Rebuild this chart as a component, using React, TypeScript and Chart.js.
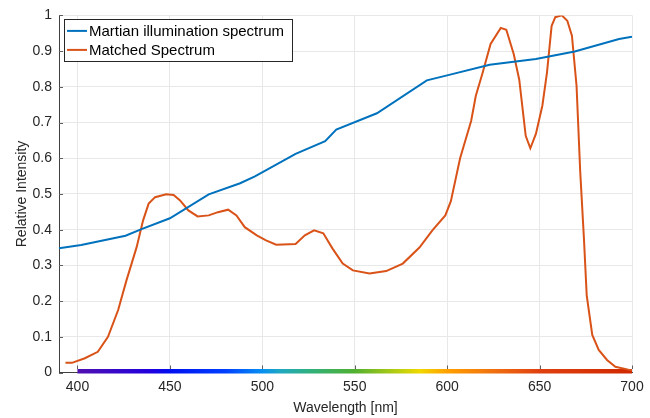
import React, { useEffect, useRef } from "react";
import { Chart, registerables } from "chart.js";

Chart.register(...registerables);

const martianWl = [390, 402, 426, 435, 450, 471, 488, 496, 518, 534, 540, 562, 589, 600, 623, 648, 669, 693, 700];
const martianVal = [0.348, 0.357, 0.383, 0.402, 0.432, 0.499, 0.53, 0.549, 0.612, 0.648, 0.68, 0.726, 0.818, 0.832, 0.862, 0.878, 0.899, 0.934, 0.94];

const matchedWl = [393.5, 397, 404, 411, 416.5, 422, 426.5, 432, 435.5, 438.5, 442, 448, 452, 455.5, 460, 465, 471, 476, 481.5, 486, 490.5, 497, 502, 507.5, 518, 523, 528, 533, 538, 543.5, 549, 558, 567, 576, 585, 592, 599, 602, 607, 613, 615.5, 619, 623.5, 629, 632, 636, 639, 642.5, 645, 648, 651.5, 654, 656.5, 658.5, 662, 665, 667.5, 670, 672, 674, 675.5, 678.5, 682, 686.5, 691, 698, 700];
const matchedVal = [0.027, 0.027, 0.04, 0.058, 0.1, 0.175, 0.258, 0.351, 0.426, 0.473, 0.491, 0.499, 0.497, 0.482, 0.454, 0.437, 0.44, 0.449, 0.456, 0.44, 0.407, 0.384, 0.37, 0.358, 0.36, 0.384, 0.398, 0.39, 0.347, 0.305, 0.286, 0.277, 0.284, 0.305, 0.35, 0.398, 0.44, 0.48, 0.6, 0.705, 0.775, 0.836, 0.92, 0.965, 0.96, 0.892, 0.82, 0.663, 0.628, 0.668, 0.747, 0.84, 0.97, 0.995, 1.0, 0.985, 0.943, 0.803, 0.561, 0.375, 0.216, 0.105, 0.063, 0.035, 0.016, 0.008, 0.006];

const xTicks = [400, 450, 500, 550, 600, 650, 700];
const seriesLabels = ["Martian illumination spectrum", "Matched Spectrum"];

const spectrumWl = [400, 440, 450, 480, 500, 510, 525, 550, 575, 585, 600, 625, 650, 700];
const spectrumColors = ["#5010b0", "#2000e0", "#0010f0", "#0040ff", "#0890f0", "#20a8c0", "#30b080", "#50b030", "#c0d010", "#f0d800", "#ffa000", "#f07010", "#e04010", "#d02800"];

const FONT = "'Liberation Sans', Arial, Helvetica, sans-serif";

const spectrumPlugin = {
  id: "spectrumBar",
  beforeDatasetsDraw(chart: any) {
    const { ctx } = chart;
    const xs = chart.scales.x;
    const ys = chart.scales.y;
    const wMin = spectrumWl[0];
    const wMax = spectrumWl[spectrumWl.length - 1];
    const x0 = xs.getPixelForValue(wMin);
    const x1 = xs.getPixelForValue(wMax);
    const y0 = ys.getPixelForValue(0);
    const g = ctx.createLinearGradient(x0, 0, x1, 0);
    spectrumWl.forEach((w, i) => {
      g.addColorStop((w - wMin) / (wMax - wMin), spectrumColors[i]);
    });
    ctx.save();
    ctx.fillStyle = g;
    ctx.fillRect(x0, y0 - 3.5, x1 - x0, 4.5);
    ctx.restore();
  },
};

const innerTicksPlugin = {
  id: "innerTicks",
  afterDraw(chart: any) {
    const { ctx, chartArea } = chart;
    const xs = chart.scales.x;
    const ys = chart.scales.y;
    ctx.save();
    ctx.strokeStyle = "#606060";
    ctx.lineWidth = 1;
    ctx.beginPath();
    ys.ticks.forEach((t: any) => {
      const y = Math.round(ys.getPixelForValue(t.value)) + 0.5;
      ctx.moveTo(chartArea.left, y);
      ctx.lineTo(chartArea.left + 4, y);
    });
    xs.ticks.forEach((t: any) => {
      const x = Math.round(xs.getPixelForValue(t.value)) + 0.5;
      ctx.moveTo(x, chartArea.bottom - 3.5);
      ctx.lineTo(x, chartArea.bottom - 7);
    });
    ctx.stroke();
    ctx.restore();
  },
};

const boxLegendPlugin = {
  id: "boxLegend",
  afterDraw(chart: any) {
    const { ctx, chartArea } = chart;
    const left = chartArea.left + 5;
    const top = chartArea.top + 3.5;
    const w = 228;
    const h = 42;
    ctx.save();
    ctx.fillStyle = "#ffffff";
    ctx.fillRect(left, top, w, h);
    ctx.strokeStyle = "#262626";
    ctx.lineWidth = 1;
    ctx.strokeRect(Math.round(left) + 0.5, Math.round(top) + 0.5, w, h);
    ctx.font = `15px ${FONT}`;
    ctx.textBaseline = "middle";
    ctx.textAlign = "left";
    chart.data.datasets.forEach((ds: any, i: number) => {
      const y = top + 12 + i * 19;
      ctx.strokeStyle = ds.borderColor;
      ctx.lineWidth = 2;
      ctx.beginPath();
      ctx.moveTo(left + 3, y);
      ctx.lineTo(left + 23, y);
      ctx.stroke();
      ctx.fillStyle = "#000000";
      ctx.fillText(ds.label, left + 25, y + 1);
    });
    ctx.restore();
  },
};

export default function App() {
  const ref = useRef<HTMLCanvasElement>(null);

  useEffect(() => {
    document.body.style.margin = "0";
    if (!ref.current) return;
    const chart = new Chart(ref.current, {
      type: "line",
      data: {
        datasets: [
          {
            label: seriesLabels[0],
            data: martianWl.map((x, i) => ({ x, y: martianVal[i] })),
            borderColor: "#0072BD",
            backgroundColor: "#0072BD",
            borderWidth: 2,
            pointRadius: 0,
            tension: 0,
          },
          {
            label: seriesLabels[1],
            data: matchedWl.map((x, i) => ({ x, y: matchedVal[i] })),
            borderColor: "#D95319",
            backgroundColor: "#D95319",
            borderWidth: 2,
            pointRadius: 0,
            tension: 0,
          },
        ],
      },
      options: {
        animation: false,
        responsive: false,
        layout: { padding: { top: 14.5, right: 18, left: 0, bottom: 0 } },
        plugins: {
          legend: { display: false },
          tooltip: { enabled: false },
        },
        scales: {
          x: {
            type: "linear",
            min: 390,
            max: 700,
            afterBuildTicks: (scale: any) => {
              scale.ticks = xTicks.map((v) => ({ value: v }));
            },
            afterFit: (scale: any) => {
              scale.height = 45.5;
            },
            grid: { color: "#e8e8e8", drawTicks: false },
            border: { color: "#404040", width: 1 },
            ticks: {
              padding: 6,
              color: "#262626",
              font: { family: FONT, size: 14 },
              maxRotation: 0,
            },
            title: {
              display: true,
              text: "Wavelength [nm]",
              color: "#262626",
              font: { family: FONT, size: 14 },
              padding: { top: 0, bottom: 1.6 },
            },
          },
          y: {
            min: 0,
            max: 1,
            afterFit: (scale: any) => {
              scale.width = 59;
            },
            grid: { color: "#e8e8e8", drawTicks: false },
            border: { color: "#404040", width: 1 },
            ticks: {
              stepSize: 0.1,
              padding: 7,
              color: "#262626",
              font: { family: FONT, size: 14 },
              callback: (v: any) => String(Number(Number(v).toFixed(1))),
            },
            title: {
              display: true,
              text: "Relative Intensity",
              color: "#262626",
              font: { family: FONT, size: 14 },
              padding: { top: 13.6, bottom: 0 },
            },
          },
        },
      },
      plugins: [spectrumPlugin, innerTicksPlugin, boxLegendPlugin],
    } as any);
    return () => chart.destroy();
  }, []);

  return (
    <div style={{ width: 650, height: 418 }}>
      <canvas ref={ref} width={650} height={418} />
    </div>
  );
}
